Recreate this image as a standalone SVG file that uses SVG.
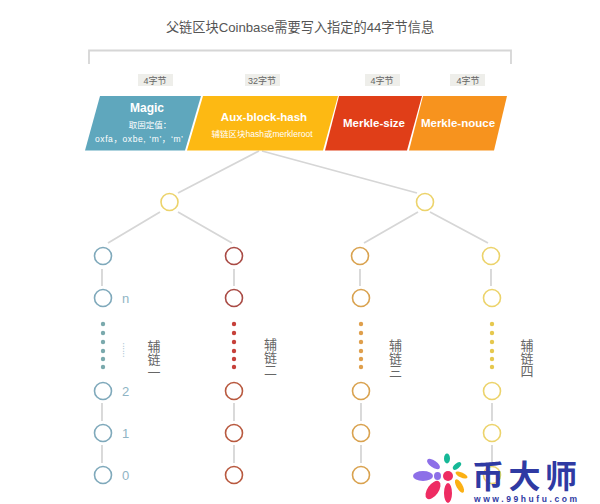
<svg xmlns="http://www.w3.org/2000/svg" width="600" height="504" viewBox="0 0 600 504">
<style>
text{font-family:"Liberation Sans","Noto Sans CJK SC",sans-serif}
.l{stroke:#d6d6d6;stroke-width:1.8;fill:none}
.n{fill:#fff;stroke-width:1.6}
.tag{fill:#eeeeea}
.tt{font-size:9px;fill:#666;text-anchor:middle}
.w{fill:#fff;text-anchor:middle;font-weight:bold}
.s{fill:#fff;text-anchor:middle;font-size:8.5px}
.v{font-size:13px;fill:#666;writing-mode:vertical-rl}
.num{font-size:13px;fill:#8fb4c4}
</style>
<rect width="600" height="504" fill="#fff"/>
<text x="300" y="32" font-size="13.200" fill="#555" text-anchor="middle">父链区块Coinbase需要写入指定的44字节信息</text>
<g id="connectors">
<path class="l" d="M89 64V50.500H511V64"/>
<path class="l" d="M259 151L178 193M262 151L417 193"/>
<path class="l" d="M160 212L108 243M178 212L232 243M418 212L364 243M430 212L488 243"/>
<path class="l" d="M102 269V286M234 269V286M360 269V286M491 269V286"/>
<path class="l" d="M102 403V421M234 403V421M361 403V421M492 403V421"/>
<path class="l" d="M102 445V463M234 445V463M361 445V463M492 445V463"/>
</g>
<g id="tags">
<rect class="tag" x="138" y="74" width="35" height="12"/><text class="tt" x="155" y="83.500">4字节</text>
<rect class="tag" x="245" y="74" width="35" height="12"/><text class="tt" x="262" y="83.500">32字节</text>
<rect class="tag" x="365" y="74" width="35" height="12"/><text class="tt" x="382" y="83.500">4字节</text>
<rect class="tag" x="450" y="74" width="35" height="12"/><text class="tt" x="468" y="83.500">4字节</text>
</g>
<g id="magic"><polygon points="100,96 201,96 185,150.500 85,150.500" fill="#5fa7bd"/>
<text class="w" x="147" y="112" font-size="12">Magic</text><text class="s" x="150" y="128">取固定值：</text><text class="s" x="139" y="142" textLength="88">oxfa，oxbe, ‘m’，‘m’</text></g>
<g id="aux"><polygon points="203,96 338,96 323,150.500 187,150.500" fill="#fdb913"/>
<text class="w" x="264" y="121" font-size="11.500">Aux-block-hash</text><text class="s" x="262" y="137">辅链区块hash或merkleroot</text></g>
<g id="size"><polygon points="339,96 422,96 407,150.500 325,150.500" fill="#e03e18"/>
<text class="w" x="374" y="127" font-size="11.500">Merkle-size</text></g>
<g id="nouce"><polygon points="423,96 507,96 494,150.500 409,150.500" fill="#f7931e"/>
<text class="w" x="458" y="127" font-size="11.500">Merkle-nouce</text></g>
<g id="root-left"><circle class="n" cx="169.500" cy="202" r="8.500" stroke="#ecd36b"/></g>
<g id="root-right"><circle class="n" cx="425" cy="202" r="8.500" stroke="#ecd36b"/></g>
<g id="chain1" stroke="#7fa9bb">
<circle class="n" cx="103" cy="256" r="8.500"/><circle class="n" cx="103" cy="298" r="8.500"/><circle class="n" cx="103" cy="391" r="8.500"/><circle class="n" cx="103" cy="433" r="8.500"/><circle class="n" cx="103" cy="475" r="8.500"/>
<g fill="#7aa9ad" stroke="none"><circle cx="103" cy="324" r="2.200"/><circle cx="103" cy="333" r="2.200"/><circle cx="103" cy="342" r="2.200"/><circle cx="103" cy="351" r="2.200"/><circle cx="103" cy="359" r="2.200"/><circle cx="103" cy="367" r="2.200"/></g>
<g stroke="none"><text class="num" x="122" y="303">n</text><text x="126" y="353" font-size="9" fill="#8fb4c4" transform="rotate(90 126 350)" text-anchor="middle">......</text><text class="num" x="122" y="396">2</text><text class="num" x="122" y="438">1</text><text class="num" x="122" y="480">0</text>
<text class="v" x="153" y="340">辅链一</text></g>
</g>
<g id="chain2" stroke="#b8593f">
<circle class="n" cx="234" cy="256" r="8.500" stroke="#a94b45"/><circle class="n" cx="234" cy="298" r="8.500" stroke="#a94b45"/><circle class="n" cx="234" cy="391" r="8.500"/><circle class="n" cx="234" cy="433" r="8.500"/><circle class="n" cx="234" cy="475" r="8.500"/>
<g fill="#c6403a" stroke="none"><circle cx="234" cy="324" r="2.200"/><circle cx="234" cy="333" r="2.200"/><circle cx="234" cy="342" r="2.200"/><circle cx="234" cy="351" r="2.200"/><circle cx="234" cy="359" r="2.200"/><circle cx="234" cy="367" r="2.200"/></g>
<g stroke="none"><text class="v" x="269.500" y="338">辅链二</text></g>
</g>
<g id="chain3" stroke="#d9a24f">
<circle class="n" cx="360" cy="256" r="8.500"/><circle class="n" cx="361" cy="298" r="8.500"/><circle class="n" cx="361" cy="391" r="8.500"/><circle class="n" cx="361" cy="433" r="8.500"/><circle class="n" cx="361" cy="475" r="8.500"/>
<g fill="#df9f4c" stroke="none"><circle cx="361" cy="324" r="2.200"/><circle cx="361" cy="333" r="2.200"/><circle cx="361" cy="342" r="2.200"/><circle cx="361" cy="351" r="2.200"/><circle cx="361" cy="359" r="2.200"/><circle cx="361" cy="367" r="2.200"/></g>
<g stroke="none"><text class="v" x="394.500" y="339">辅链三</text></g>
</g>
<g id="chain4" stroke="#ecd36b">
<circle class="n" cx="491" cy="256" r="8.500"/><circle class="n" cx="492" cy="298" r="8.500"/><circle class="n" cx="492" cy="391" r="8.500"/><circle class="n" cx="492" cy="433" r="8.500"/><circle class="n" cx="492" cy="475" r="8.500"/>
<g fill="#e6c84e" stroke="none"><circle cx="492" cy="324" r="2.200"/><circle cx="492" cy="333" r="2.200"/><circle cx="492" cy="342" r="2.200"/><circle cx="492" cy="351" r="2.200"/><circle cx="492" cy="359" r="2.200"/><circle cx="492" cy="367" r="2.200"/></g>
<g stroke="none"><text class="v" x="526" y="339">辅链四</text></g>
</g>
<g id="watermark">
<circle cx="448" cy="476" r="5" fill="#ee2c62"/>
<ellipse cx="423" cy="476" rx="10" ry="5" fill="#8d6fe8"/><ellipse cx="437.500" cy="476" rx="3.500" ry="4" fill="#8d6fe8"/>
<ellipse cx="433.500" cy="464" rx="7.500" ry="3.500" fill="#8d6fe8" transform="rotate(35 433.500 464)"/>
<ellipse cx="447" cy="458.500" rx="3" ry="5" fill="#16b897"/><ellipse cx="457" cy="466" rx="2.500" ry="5" fill="#16b897" transform="rotate(50 457 466)"/>
<ellipse cx="461.500" cy="475" rx="6.500" ry="2.500" fill="#fbb014" transform="rotate(25 461.500 475)"/><ellipse cx="459.500" cy="486" rx="3" ry="7.500" fill="#fbb014" transform="rotate(-30 459.500 486)"/>
<ellipse cx="433" cy="490" rx="5.500" ry="10.500" fill="#ee2c62" transform="rotate(35 433 490)"/><ellipse cx="448" cy="493" rx="4" ry="10" fill="#ee2c62"/>
<text x="472" y="488" font-size="32" font-weight="bold" fill="#2f3aa3" textLength="105">币大师</text>
<text x="474" y="502" font-size="8.500" font-weight="bold" fill="#2f3aa3" textLength="103">www.99hufu.com</text>
</g>
</svg>
